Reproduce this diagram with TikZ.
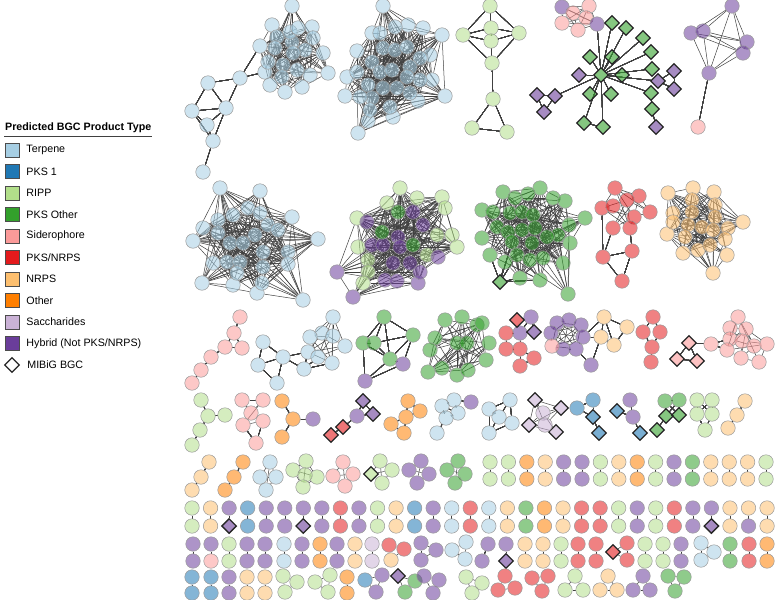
\documentclass[tikz,border=0pt]{standalone}
\usepackage{fontspec}
\setmainfont{Liberation Sans}
\usepackage{tikz}
\usetikzlibrary{positioning, shapes.geometric}

\definecolor{terpene}{HTML}{A6CEE3}
\definecolor{pksone}{HTML}{1F78B4}
\definecolor{ripp}{HTML}{B2DF8A}
\definecolor{pksother}{HTML}{33A02C}
\definecolor{sidero}{HTML}{FB9A99}
\definecolor{pksnrps}{HTML}{E31A1C}
\definecolor{nrps}{HTML}{FDBF6F}
\definecolor{other}{HTML}{FF7F00}
\definecolor{sacch}{HTML}{CAB2D6}
\definecolor{hybrid}{HTML}{6A3D9A}

\pgfdeclarelayer{edges}
\pgfsetlayers{edges,main}

\tikzset{
  bgc/.style={circle, draw=gray!80, line width=0.5pt, fill=#1, fill opacity=0.55, minimum size=14.5pt, inner sep=0pt},
  mibig/.style={diamond, draw=black!85, line width=1.3pt, fill=#1, fill opacity=0.6, minimum size=15pt, inner sep=0pt},
  link/.style={draw=black!75, line width=0.5pt},
  keybox/.style={rectangle, draw=black!70, line width=0.6pt, fill=#1, minimum size=14pt, inner sep=0pt},
  keytext/.style={font=\fontsize{10.7}{12}\selectfont, inner sep=1pt, anchor=west},
}

% random links inside one cluster
\newcommand\meshup[3]{%
  \foreach \i in {1,...,#2}{%
    \foreach \j in {1,...,#2}{%
      \ifnum\i<\j
        \pgfmathtruncatemacro\keep{rnd<#3}%
        \ifnum\keep=1 \draw[link] (#1\i) -- (#1\j);\fi
      \fi
    }%
  }%
}

\begin{document}
\begin{tikzpicture}[x=1pt, y=-1pt]
    \useasboundingbox (0,0) rectangle (777,600);

    % Legend
    \node[keytext, font=\bfseries\fontsize{10.7}{12}\selectfont] (legtitle) at (4,128) {Predicted BGC Product Type};
    \draw[black!75, line width=0.8pt] ([yshift=-2pt]legtitle.south west) -- ([yshift=-2pt]legtitle.south east);
    \foreach \c/\t [count=\k] in {terpene/Terpene, pksone/PKS 1, ripp/RIPP, pksother/PKS Other, sidero/Siderophore,
        pksnrps/{PKS/NRPS}, nrps/NRPS, other/Other, sacch/Saccharides, hybrid/{Hybrid (Not PKS/NRPS)}}{
      \node[keybox=\c] (key\k) at (12,{150+21.5*(\k-1)}) {};
      \node[keytext, right=6pt of key\k] (lab\k) {\t};
    }
    \node[mibig=white] (key11) at (12,365) {};
    \node[keytext, right=6pt of key11] (lab11) {MIBiG BGC};

    % Row 1
    \foreach \x/\y [count=\k] in {292/6, 272/25, 312/27, 313/38, 260/46, 323/53, 328/73, 265/72, 270/85, 285/92, 302/87, 310/75,
        277/37, 292/42, 305/50, 275/48, 293/53, 283/65, 297/70, 282/77, 268/62, 290/32, 298/28}
      \node[bgc=terpene] (a\k) at (\x,\y) {};
    \foreach \x/\y [count=\k] in {240/78, 208/83, 192/111, 226/108, 207/125, 213/141, 203/172}
      \node[bgc=terpene] (at\k) at (\x,\y) {};
    \foreach \x/\y [count=\k] in {383/6, 372/33, 357/51, 347/77, 345/96, 358/133, 368/121, 393/117, 390/107, 418/101, 445/96, 432/80,
        430/55, 442/35, 423/28, 408/25, 395/27, 383/48, 395/50, 407/47, 420/58, 357/72, 372/62, 380/72, 392/70, 410/67,
        420/80, 368/85, 383/88, 397/88, 410/93, 372/98, 360/97, 370/110, 407/77, 380/33}
      \node[bgc=terpene] (b\k) at (\x,\y) {};
    \foreach \x/\y [count=\k] in {490/6, 463/35, 491/28, 491/41, 519/33, 492/63, 493/99, 507/132, 472/128}
      \node[bgc=ripp] (c\k) at (\x,\y) {};
    \foreach \x/\y/\c [count=\k] in {562/7/hybrid, 589/6/sidero, 562/23/sidero, 578/30/sidero, 573/13/sidero, 586/18/sidero, 597/24/hybrid}
      \node[bgc=\c] (d\k) at (\x,\y) {};
    \foreach \x/\y [count=\k] in {601/75, 612/23, 626/28, 643/38, 651/52, 590/57, 612/57, 622/75, 652/69, 590/94, 611/94, 651/93,
        652/109, 584/123, 603/127}
      \node[mibig=pksother] (dg\k) at (\x,\y) {};
    \foreach \x/\y [count=\k] in {579/75, 537/95, 555/96, 544/112, 658/81, 674/71, 674/89, 656/127}
      \node[mibig=hybrid] (dh\k) at (\x,\y) {};
    \foreach \x/\y/\c [count=\k] in {732/6/hybrid, 691/33/hybrid, 703/31/hybrid, 747/42/hybrid, 743/53/hybrid, 709/73/hybrid, 698/127/sidero}
      \node[bgc=\c] (e\k) at (\x,\y) {};

    % Row 2
    \foreach \x/\y [count=\k] in {220/188, 260/191, 292/217, 318/239, 303/300, 288/252, 288/264, 257/293, 233/285, 202/283, 193/241,
        203/228, 218/220, 233/215, 248/208, 260/213, 268/225, 278/230, 218/233, 230/243, 243/243, 255/235, 213/263,
        227/262, 240/262, 263/252, 263/267, 262/283, 237/273}
      \node[bgc=terpene] (f\k) at (\x,\y) {};
    \foreach \x/\y/\c [count=\k] in {400/188/ripp, 417/198/ripp, 442/197/ripp, 445/208/ripp, 387/203/ripp, 357/218/ripp, 358/247/ripp,
        452/235/ripp, 457/247/ripp, 368/260/ripp, 368/272/ripp, 363/283/ripp, 427/255/ripp, 437/235/ripp,
        337/272/hybrid, 353/297/hybrid, 385/280/hybrid, 397/281/hybrid, 418/283/hybrid, 420/272/hybrid, 438/257/hybrid,
        367/222/hybrid, 372/245/hybrid, 383/245/hybrid, 398/237/hybrid, 400/247/hybrid, 413/212/hybrid, 423/225/hybrid,
        410/263/hybrid, 393/263/hybrid, 398/212/pksother, 382/232/pksother, 413/245/pksother}
      \node[bgc=\c] (g\k) at (\x,\y) {};
    \foreach \x/\y [count=\k] in {503/192, 540/188, 553/198, 565/201, 585/218, 569/225, 570/243, 558/235, 563/263, 540/280, 568/294,
        520/278, 490/255, 482/238, 482/210, 493/212, 515/198, 528/194, 510/213, 522/212, 533/215, 497/227, 508/232,
        522/230, 535/228, 547/237, 512/242, 532/243, 517/255, 530/260, 543/258, 505/262}
      \node[bgc=pksother] (h\k) at (\x,\y) {};
    \node[mibig=pksother] (hd1) at (500,282) {};
    \foreach \x/\y [count=\k] in {615/188, 639/196, 602/208, 613/206, 627/200, 650/212, 634/217, 613/228, 630/228, 632/251, 603/257, 622/281}
      \node[bgc=pksnrps] (i\k) at (\x,\y) {};
    \foreach \x/\y [count=\k] in {668/193, 693/188, 714/192, 743/222, 727/255, 713/273, 683/253, 667/234, 673/213, 698/250, 692/200,
        692/212, 715/205, 715/217, 673/222, 688/225, 702/227, 713/230, 728/228, 685/237, 725/239, 710/245}
      \node[bgc=nrps] (j\k) at (\x,\y) {};

    % Row 3
    \foreach \x/\y [count=\k] in {240/317, 234/333, 225/347, 242/348, 211/357, 201/370, 192/383}
      \node[bgc=sidero] (k\k) at (\x,\y) {};
    \foreach \x/\y [count=\k] in {263/342, 258/365, 277/383, 283/357, 304/369}
      \node[bgc=terpene] (la\k) at (\x,\y) {};
    \foreach \x/\y [count=\k] in {308/352, 322/333, 333/317, 333/336, 345/346, 332/363, 318/357, 310/337}
      \node[bgc=terpene] (lb\k) at (\x,\y) {};
    \foreach \x/\y/\c [count=\k] in {384/317/pksother, 413/335/pksother, 363/343/pksother, 374/343/pksother, 390/359/pksother,
        403/364/hybrid, 365/381/hybrid}
      \node[bgc=\c] (m\k) at (\x,\y) {};
    \foreach \x/\y [count=\k] in {445/320, 462/317, 477/325, 435/338, 430/350, 457/343, 467/343, 428/372, 442/368, 457/375, 468/370,
        482/323, 489/343, 486/360}
      \node[bgc=pksother] (n\k) at (\x,\y) {};
    \foreach \x/\y/\c [count=\k] in {531/317/hybrid, 520/333/hybrid, 506/333/pksnrps, 506/349/pksnrps, 520/349/pksnrps,
        520/366/pksnrps, 534/358/pksnrps}
      \node[bgc=\c] (o\k) at (\x,\y) {};
    \node[mibig=pksnrps] (od1) at (517,320) {};
    \node[mibig=hybrid] (od2) at (534,332) {};
    \foreach \x/\y/\c [count=\k] in {557/323/hybrid, 569/320/hybrid, 581/325/hybrid, 551/333/hybrid, 583/337/hybrid, 563/349/hybrid,
        576/349/hybrid, 552/346/sidero, 591/365/hybrid, 604/317/nrps, 627/327/nrps, 601/337/nrps, 614/345/nrps}
      \node[bgc=\c] (p\k) at (\x,\y) {};
    \foreach \x/\y [count=\k] in {653/317, 643/332, 660/332, 652/347, 651/362}
      \node[bgc=pksnrps] (q\k) at (\x,\y) {};
    \foreach \x/\y [count=\k] in {689/343, 677/359, 697/361}
      \node[mibig=sidero] (rd\k) at (\x,\y) {};
    \node[bgc=sidero] (rc) at (711,344) {};
    \foreach \x/\y [count=\k] in {738/317, 730/328, 746/329, 730/339, 742/341, 727/350, 754/346, 767/344, 741/358, 759/362}
      \node[bgc=sidero] (rs\k) at (\x,\y) {};

    % Row 4
    \foreach \x/\y [count=\k] in {201/400, 208/416, 225/415, 200/430, 192/445}
      \node[bgc=ripp] (s\k) at (\x,\y) {};
    \foreach \x/\y [count=\k] in {242/400, 263/400, 251/413, 243/425, 263/421, 256/443}
      \node[bgc=sidero] (t\k) at (\x,\y) {};
    \foreach \x/\y/\c [count=\k] in {282/401/other, 293/419/other, 313/419/hybrid, 282/437/other}
      \node[bgc=\c] (u\k) at (\x,\y) {};
    \node[bgc=hybrid] (v1) at (357,416) {};
    \foreach \x/\y/\c [count=\k] in {363/401/hybrid, 373/414/hybrid, 343/427/pksnrps, 331/435/pksnrps}
      \node[mibig=\c] (vd\k) at (\x,\y) {};
    \foreach \x/\y [count=\k] in {408/401, 420/411, 406/417, 391/424, 404/433}
      \node[bgc=other] (w\k) at (\x,\y) {};
    \foreach \x/\y/\c [count=\k] in {454/400/terpene, 471/402/hybrid, 442/406/terpene, 458/413/terpene, 446/418/terpene, 437/433/terpene}
      \node[bgc=\c] (x\k) at (\x,\y) {};
    \foreach \x/\y [count=\k] in {510/400, 489/409, 499/417, 512/423, 489/433}
      \node[bgc=terpene] (y\k) at (\x,\y) {};
    \foreach \x/\y [count=\k] in {535/400, 561/408, 529/425, 556/432}
      \node[mibig=sacch] (z\k) at (\x,\y) {};
    \node[bgc=sacch] (z5) at (543,413) {};
    \node[bgc=sacch] (z6) at (545,425) {};
    \node[bgc=pksone] (aa1) at (593,400) {};
    \node[bgc=pksone] (aa2) at (577,408) {};
    \node[mibig=pksone] (aa3) at (593,417) {};
    \node[mibig=pksone] (aa4) at (599,433) {};
    \node[bgc=hybrid] (ab1) at (630,400) {};
    \node[bgc=hybrid] (ab2) at (633,417) {};
    \node[mibig=pksone] (ab3) at (617,411) {};
    \node[mibig=pksone] (ab4) at (640,433) {};
    \node[bgc=pksother] (ac1) at (665,401) {};
    \node[bgc=pksother] (ac2) at (679,400) {};
    \foreach \x/\y [count=\k from 3] in {666/416, 679/415, 657/430}
      \node[mibig=pksother] (ac\k) at (\x,\y) {};
    \foreach \x/\y [count=\k] in {697/400, 712/400, 697/414, 712/414, 705/430}
      \node[bgc=ripp] (ad\k) at (\x,\y) {};
    \foreach \x/\y [count=\k] in {745/401, 737/415, 728/428}
      \node[bgc=nrps] (ae\k) at (\x,\y) {};

    % Row 5
    \foreach \x/\y [count=\k] in {209/462, 201/477, 192/490}
      \node[bgc=nrps] (ba\k) at (\x,\y) {};
    \foreach \x/\y [count=\k] in {243/462, 234/477, 225/490}
      \node[bgc=other] (bb\k) at (\x,\y) {};
    \foreach \x/\y [count=\k] in {270/462, 260/477, 276/477, 266/490}
      \node[bgc=terpene] (bc\k) at (\x,\y) {};
    \foreach \x/\y [count=\k] in {306/461, 293/470, 317/477, 305/475, 303/487}
      \node[bgc=ripp] (bd\k) at (\x,\y) {};
    \foreach \x/\y [count=\k] in {343/462, 333/476, 353/474, 345/486}
      \node[bgc=sidero] (be\k) at (\x,\y) {};
    \node[mibig=ripp] (bf1) at (371,474) {};
    \foreach \x/\y [count=\k from 2] in {380/461, 392/470, 382/483}
      \node[bgc=ripp] (bf\k) at (\x,\y) {};
    \foreach \x/\y [count=\k] in {421/461, 409/470, 429/474, 417/483}
      \node[bgc=hybrid] (bg\k) at (\x,\y) {};
    \foreach \x/\y [count=\k] in {458/461, 447/470, 465/474, 455/483}
      \node[bgc=pksother] (bh\k) at (\x,\y) {};
    \foreach \c/\d [count=\k] in {ripp/ripp, ripp/ripp, other/other, nrps/nrps, hybrid/hybrid, hybrid/hybrid, ripp/ripp, nrps/nrps,
        other/other, ripp/ripp, hybrid/hybrid, pksother/pksother, nrps/nrps, nrps/nrps, nrps/nrps, ripp/ripp}{
      \node[bgc=\c] (fiveA\k) at ({490+18.4*(\k-1)},462) {};
      \node[bgc=\d] (fiveB\k) at ({490+18.4*(\k-1)},479) {};
    }

    % Row 6
    \foreach \c/\d/\m [count=\k] in {ripp/ripp/0, nrps/nrps/0, hybrid/hybrid/1, pksone/pksone/0, hybrid/hybrid/0, hybrid/hybrid/0,
        hybrid/hybrid/1, hybrid/hybrid/0, pksnrps/pksnrps/0, hybrid/hybrid/0, ripp/ripp/0, nrps/nrps/0, pksone/pksone/0,
        hybrid/hybrid/0, terpene/terpene/0, pksnrps/pksnrps/0, terpene/terpene/0, nrps/nrps/0, pksother/pksother/0,
        other/other/0, nrps/nrps/0, pksnrps/pksnrps/0, pksnrps/pksnrps/0, ripp/ripp/0, hybrid/hybrid/0, ripp/ripp/0,
        pksnrps/pksnrps/0, hybrid/hybrid/0, hybrid/hybrid/1, nrps/nrps/0, nrps/hybrid/0, nrps/nrps/0}{
      \node[bgc=\c] (sixA\k) at ({192+18.55*(\k-1)},508) {};
      \ifnum\m=1 \node[mibig=\d] (sixB\k) at ({192+18.55*(\k-1)},526) {};
      \else \node[bgc=\d] (sixB\k) at ({192+18.55*(\k-1)},526) {};\fi
    }

    % Row 7
    \foreach \px/\c/\d/\m [count=\k] in {193/hybrid/hybrid/0, 211/hybrid/sidero/0, 229/ripp/ripp/0, 247/hybrid/hybrid/0,
        265/hybrid/hybrid/0, 284/terpene/terpene/0, 302/hybrid/hybrid/0, 320/other/other/0, 337/hybrid/hybrid/0,
        355/nrps/nrps/0, 372/sacch/sacch/0, 506/hybrid/hybrid/1, 525/nrps/nrps/0, 543/nrps/nrps/0, 561/ripp/ripp/0,
        578/pksnrps/pksnrps/0, 596/pksnrps/pksnrps/0, 645/ripp/ripp/0, 663/ripp/ripp/0, 681/hybrid/hybrid/0,
        730/pksother/pksother/0, 749/pksnrps/pksnrps/0, 767/other/other/0}{
      \node[bgc=\c] (sevA\k) at (\px,544) {};
      \ifnum\m=1 \node[mibig=\d] (sevB\k) at (\px,561) {};
      \else \node[bgc=\d] (sevB\k) at (\px,561) {};\fi
    }
    \node[bgc=hybrid] (slantA) at (488,544) {};
    \node[bgc=hybrid] (slantB) at (482,561) {};
    \foreach \x/\y/\c [count=\k] in {389/545/pksnrps, 404/549/pksnrps, 391/560/nrps}
      \node[bgc=\c] (triA\k) at (\x,\y) {};
    \foreach \x/\y [count=\k] in {421/543, 436/550, 421/560}
      \node[bgc=hybrid] (triB\k) at (\x,\y) {};
    \foreach \x/\y [count=\k] in {466/542, 452/550, 465/559}
      \node[bgc=terpene] (triC\k) at (\x,\y) {};
    \node[mibig=pksnrps] (triD1) at (613,552) {};
    \node[bgc=pksnrps] (triD2) at (627,543) {};
    \node[bgc=pksnrps] (triD3) at (627,560) {};
    \foreach \x/\y [count=\k] in {701/543, 714/552, 701/560}
      \node[bgc=terpene] (triE\k) at (\x,\y) {};

    % Row 8
    \foreach \px/\c [count=\k] in {192/pksone, 211/pksone, 229/hybrid, 247/nrps, 265/nrps, 347/other}{
      \node[bgc=\c] (eigA\k) at (\px,577) {};
      \node[bgc=\c] (eigB\k) at (\px,593) {};
    }
    \foreach \x/\y [count=\k] in {283/576, 297/582, 285/592}
      \node[bgc=ripp] (triF\k) at (\x,\y) {};
    \foreach \x/\y [count=\k] in {315/582, 330/575, 328/592}
      \node[bgc=ripp] (triG\k) at (\x,\y) {};
    \foreach \x/\y/\c [count=\k] in {365/580/pksone, 382/575/hybrid, 376/592/hybrid}
      \node[bgc=\c] (triH\k) at (\x,\y) {};
    \node[mibig=hybrid] (triI1) at (398,576) {};
    \node[bgc=pksother] (triI2) at (415,581) {};
    \node[bgc=pksother] (triI3) at (405,592) {};
    \foreach \x/\y [count=\k] in {424/576, 439/580, 433/593}
      \node[bgc=hybrid] (triJ\k) at (\x,\y) {};
    \foreach \x/\y [count=\k] in {466/577, 482/583, 472/593}
      \node[bgc=ripp] (triK\k) at (\x,\y) {};
    \foreach \x/\y [count=\k] in {505/576, 498/590, 515/588}
      \node[bgc=pksnrps] (triL\k) at (\x,\y) {};
    \foreach \x/\y [count=\k] in {532/578, 548/576, 542/591}
      \node[bgc=pksnrps] (triM\k) at (\x,\y) {};
    \foreach \x/\y [count=\k] in {575/576, 565/590, 583/590}
      \node[bgc=ripp] (triN\k) at (\x,\y) {};
    \foreach \x/\y [count=\k] in {608/576, 600/590, 617/590}
      \node[bgc=nrps] (triO\k) at (\x,\y) {};
    \foreach \x/\y [count=\k] in {643/576, 633/590, 650/590}
      \node[bgc=hybrid] (triP\k) at (\x,\y) {};
    \foreach \x/\y [count=\k] in {668/576, 684/577, 675/591}
      \node[bgc=pksother] (triQ\k) at (\x,\y) {};

    % Links
    \begin{pgfonlayer}{edges}
    \pgfmathsetseed{11}
    \meshup{a}{23}{0.6}
    \meshup{b}{36}{0.45}
    \meshup{d}{7}{0.8}
    \meshup{e}{6}{1.1}
    \meshup{f}{29}{0.5}
    \meshup{g}{33}{0.5}
    \meshup{h}{32}{0.5}
    \meshup{i}{9}{0.6}
    \meshup{j}{22}{0.6}
    \meshup{lb}{8}{0.7}
    \meshup{n}{14}{0.65}
    \meshup{p}{8}{1.1}
    \meshup{rs}{10}{0.5}
    \meshup{t}{5}{0.8}
    \meshup{z}{6}{0.8}
    \meshup{bc}{4}{1.1}
    \meshup{bd}{5}{1.1}
    \meshup{be}{4}{1.1}
    \meshup{bf}{4}{1.1}
    \meshup{bg}{4}{1.1}
    \meshup{bh}{4}{1.1}
    \foreach \g in {triA, triB, triC, triD, triE, triF, triG, triH, triI, triJ, triK, triL, triM, triN, triO, triP, triQ}
      \meshup{\g}{3}{1.1}
    \foreach \u/\v in {at1/a8, at1/a5, at1/at2, at1/at4, at2/at3, at2/at4, at3/at4, at3/at5, at3/at6, at4/at5, at4/at6, at5/at6,
        at6/at7,
        c1/c2, c1/c3, c1/c5, c2/c3, c2/c4, c2/c6, c5/c3, c5/c4, c5/c6, c3/c4, c4/c6, c6/c7, c7/c8, c7/c9, c9/c8,
        dg1/d7, dg1/dg2, dg1/dg3, dg1/dg4, dg1/dg5, dg1/dg6, dg1/dg7, dg1/dg8, dg1/dg9, dg1/dg10, dg1/dg11, dg1/dg12,
        dg1/dg14, dg1/dg15, dg1/dh1, dg1/dh3, dg1/dh5, dg12/dg13, dg13/dh8, dg14/dg15, dh2/dh3, dh2/dh4, dh3/dh4,
        dh5/dh6, dh5/dh7, dh6/dh7, e6/e7,
        hd1/h12, hd1/h13, hd1/h29, hd1/h32, hd1/h10, hd1/h27,
        i8/i11, i9/i10, i11/i10, i11/i12, i10/i12, i3/i11,
        k1/k2, k2/k3, k2/k4, k3/k4, k3/k5, k5/k6, k6/k7,
        la1/la2, la1/la4, la2/la3, la4/la3, la2/la4, la4/la5, la4/lb1, la5/lb6, la5/lb7, la5/lb1,
        m1/m2, m1/m3, m1/m4, m1/m5, m2/m4, m2/m5, m2/m6, m3/m4, m3/m5, m3/m7, m4/m5, m5/m6, m5/m7, m6/m7,
        od1/o1, od1/o2, o1/o2, od2/o2, o1/od2, o2/o3, o3/o4, o2/o5, o4/o5, o5/o6, o5/o7, o6/o7,
        p5/p10, p5/p12, p10/p11, p10/p12, p10/p13, p11/p13, p12/p13, p7/p9, p12/p9,
        q1/q2, q1/q3, q2/q4, q3/q4, q4/q5,
        rd1/rd2, rd1/rd3, rd2/rd3, rd1/rc, rc/rs4, rc/rs6,
        s1/s2, s2/s3, s2/s4, s4/s5, t4/t6, t5/t6,
        u1/u2, u2/u3, u2/u4,
        vd1/v1, vd2/v1, vd1/vd2, v1/vd3, vd3/vd4,
        w1/w2, w1/w3, w2/w3, w3/w4, w3/w5, w4/w5,
        x1/x2, x1/x3, x1/x4, x3/x4, x3/x5, x4/x5, x5/x6,
        y1/y2, y1/y3, y1/y4, y2/y3, y2/y5, y3/y4, y4/y5, y3/y5,
        aa1/aa2, aa1/aa3, aa2/aa3, aa3/aa4, ab1/ab2, ab3/ab2, ab2/ab4,
        ac1/ac2, ac1/ac3, ac2/ac4, ac1/ac4, ac2/ac3, ac3/ac4, ac3/ac5,
        ad1/ad2, ad1/ad3, ad2/ad4, ad1/ad4, ad2/ad3, ad3/ad4, ad3/ad5, ad4/ad5,
        ae1/ae2, ae2/ae3, ba1/ba2, ba2/ba3, bb1/bb2, bb2/bb3, slantA/slantB}
      \draw[link] (\u) -- (\v);
    \foreach \k in {1,...,16} \draw[link] (fiveA\k) -- (fiveB\k);
    \foreach \k in {1,...,32} \draw[link] (sixA\k) -- (sixB\k);
    \foreach \k in {1,...,23} \draw[link] (sevA\k) -- (sevB\k);
    \foreach \k in {1,...,6} \draw[link] (eigA\k) -- (eigB\k);
    \end{pgfonlayer}
\end{tikzpicture}
\end{document}
